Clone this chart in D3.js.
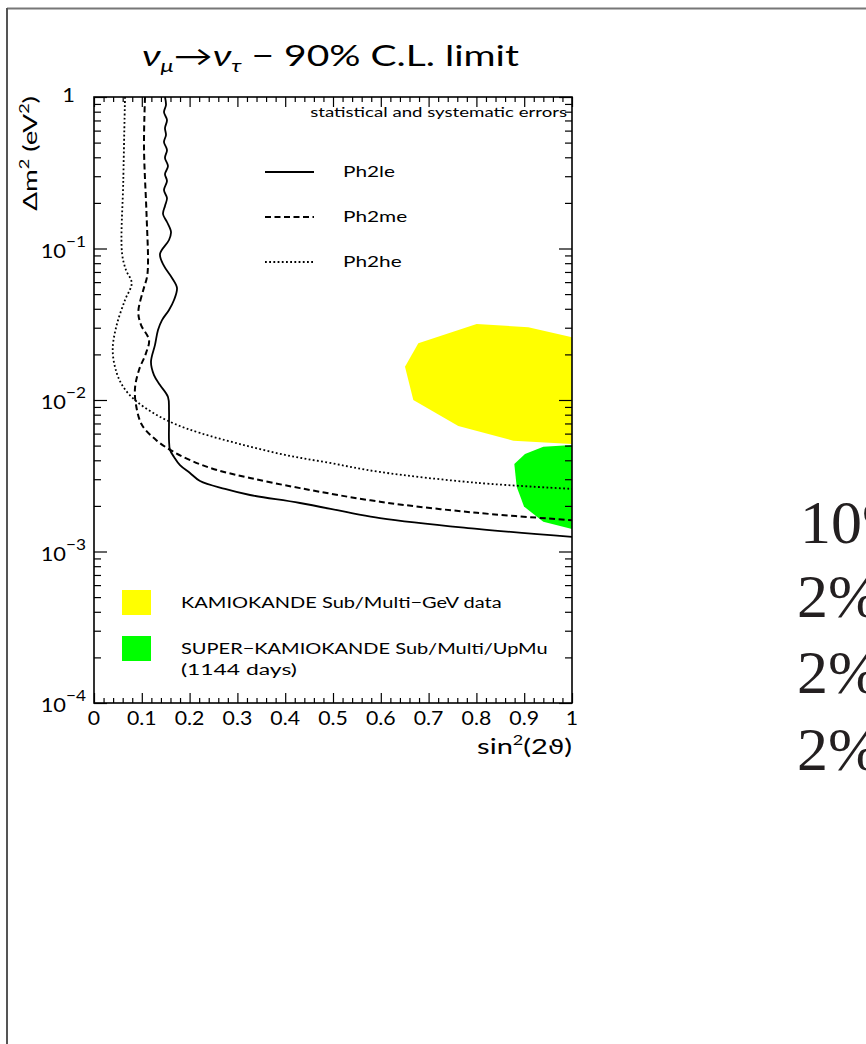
<!DOCTYPE html>
<html>
<head>
<meta charset="utf-8">
<script src="https://cdn.jsdelivr.net/npm/d3@7"></script>
<style>
  body { margin: 0; background: #fff; }
  svg { display: block; }
</style>
</head>
<body>
<svg id="chart" width="866" height="1044"></svg>
<script>
// 90% C.L. exclusion contours: [sin^2(2θ), Δm^2 (eV^2)]
const ph2le = [
  [0.1485, 1.0], [0.1506, 0.885], [0.1464, 0.796], [0.1527, 0.705], [0.1485, 0.624],
  [0.1506, 0.561], [0.1464, 0.505], [0.1527, 0.447], [0.1485, 0.396], [0.1548, 0.350],
  [0.1485, 0.310], [0.1527, 0.279], [0.1464, 0.243], [0.1527, 0.215], [0.1485, 0.191],
  [0.1444, 0.169], [0.1527, 0.1496], [0.1611, 0.1285], [0.1569, 0.1138], [0.1381, 0.0920],
  [0.1464, 0.0767], [0.1632, 0.0639], [0.1736, 0.0549], [0.1674, 0.0457], [0.1569, 0.0393],
  [0.1423, 0.0337], [0.1339, 0.0290], [0.1276, 0.0231], [0.1192, 0.0178], [0.1255, 0.0146],
  [0.1381, 0.01256], [0.1548, 0.01047], [0.1569, 0.00859], [0.1569, 0.00684], [0.1569, 0.00545],
  [0.1590, 0.00468], [0.1674, 0.00421], [0.1799, 0.00372], [0.2008, 0.00330], [0.2218, 0.00292],
  [0.2741, 0.00259], [0.3264, 0.00236], [0.4310, 0.00209], [0.5983, 0.00166], [0.8013, 0.00141],
  [1.0, 0.00125]
];
const ph2me = [
  [0.1067, 1.0], [0.1046, 0.4677], [0.1098, 0.1715], [0.1130, 0.0802], [0.1109, 0.0648],
  [0.1031, 0.0532], [0.0927, 0.0381], [0.0983, 0.0313], [0.1151, 0.0249], [0.1088, 0.0204],
  [0.0941, 0.01578], [0.0858, 0.01200], [0.0879, 0.00927], [0.1004, 0.00684], [0.1297, 0.00545],
  [0.1632, 0.00461], [0.2050, 0.00396], [0.2573, 0.00345], [0.3264, 0.00306], [0.4310, 0.00262],
  [0.5983, 0.00213], [0.8013, 0.00180], [1.0, 0.00161]
];
const ph2he = [
  [0.0649, 1.0], [0.0613, 0.2832], [0.0586, 0.0934], [0.0669, 0.0721], [0.0789, 0.0592],
  [0.0649, 0.0457], [0.0475, 0.0313], [0.0391, 0.0214], [0.0475, 0.01507], [0.0628, 0.01200],
  [0.0879, 0.00985], [0.1276, 0.00808], [0.1695, 0.00694], [0.2218, 0.00606], [0.3054, 0.00512],
  [0.3996, 0.00434], [0.4937, 0.00384], [0.5983, 0.00335], [0.8013, 0.00284], [1.0, 0.00259]
];

// Allowed regions
const kamiokande = [
  [0.8006, 0.03176], [0.9086, 0.03020], [1.0, 0.02594], [1.0, 0.00512], [0.8772, 0.00539],
  [0.7621, 0.00674], [0.6680, 0.0100], [0.6506, 0.01659], [0.6785, 0.02367]
];
const superK = [
  [1.0, 0.00505], [0.940, 0.00492], [0.9017, 0.00440], [0.8793, 0.00378], [0.8843, 0.00268],
  [0.8996, 0.00198], [0.940, 0.00157], [1.0, 0.00141]
];

const xTickValues = [0, 0.1, 0.2, 0.3, 0.4, 0.5, 0.6, 0.7, 0.8, 0.9, 1];
const xTickLabels = ["0", "0.1", "0.2", "0.3", "0.4", "0.5", "0.6", "0.7", "0.8", "0.9", "1"];
const yDecades = [1, 1e-1, 1e-2, 1e-3, 1e-4];
const yDecadeExponents = ["", "−1", "−2", "−3", "−4"];

const curveNames = ["Ph2le", "Ph2me", "Ph2he"];
const regionNames = ["KAMIOKANDE Sub/Multi\u2212GeV data", "SUPER\u2212KAMIOKANDE Sub/Multi/UpMu"];
const regionNote = "(1144 days)";
const sideNotes = ["10%", "2%", "2%", "2%"];

const FONT = "Lato, 'DejaVu Sans', sans-serif";
const svg = d3.select("#chart");

// sans text anchored at (px,py); stretched horizontally to span `width` px
// (or by a fixed factor when `width` is given as {sx})
function wideText(parent, px, py, size, width, anchor, rot) {
  const t = parent.append("text")
    .attr("font-family", FONT).attr("font-size", size).attr("fill", "#000")
    .attr("text-anchor", anchor || "start");
  t.fit = () => {
    const sx = typeof width === "number" ? width / t.node().getComputedTextLength() : width.sx;
    const r = rot ? ` rotate(${rot})` : "";
    t.attr("transform", `translate(${px},${py})${r} scale(${sx},1)`);
    return t;
  };
  return t;
}

// page frame lines
svg.append("line").attr("x1", 7).attr("y1", 8.5).attr("x2", 866).attr("y2", 8.5)
  .attr("stroke", "#777").attr("stroke-width", 2);
svg.append("line").attr("x1", 7).attr("y1", 8).attr("x2", 7).attr("y2", 1044)
  .attr("stroke", "#555").attr("stroke-width", 2);

const L = 94, R = 572, T = 97, B = 703;
const x = d3.scaleLinear().domain([0, 1]).range([L, R]);
const y = d3.scaleLog().domain([1e-4, 1]).range([B, T]);

svg.append("clipPath").attr("id", "plotClip")
  .append("rect").attr("x", L).attr("y", T).attr("width", R - L).attr("height", B - T);

const plot = svg.append("g").attr("clip-path", "url(#plotClip)");

// filled regions
const poly = d3.line().x(d => x(d[0])).y(d => y(d[1])).curve(d3.curveLinearClosed);
plot.append("path").attr("d", poly(kamiokande)).attr("fill", "#ffff00");
plot.append("path").attr("d", poly(superK)).attr("fill", "#00ff00");

// contours
const line = d3.line().x(d => x(d[0])).y(d => y(d[1])).curve(d3.curveCatmullRom.alpha(0.5));
const styles = [
  { dash: null, width: 1.8 },
  { dash: "6,3.5", width: 2 },
  { dash: "1.8,2.4", width: 1.8 }
];
[ph2le, ph2me, ph2he].forEach((data, i) => {
  plot.append("path").attr("d", line(data))
    .attr("fill", "none").attr("stroke", "#000")
    .attr("stroke-width", styles[i].width)
    .attr("stroke-dasharray", styles[i].dash);
});

// axes (ticks pointing inward on all four sides)
const xMinor = d3.range(0, 1.0001, 0.02).filter(v => Math.abs(v * 10 - Math.round(v * 10)) > 1e-6);
const yMinor = [];
for (let e = -4; e < 0; e++) for (let k = 2; k <= 9; k++) yMinor.push(k * Math.pow(10, e));

function styleAxis(g) {
  g.select(".domain").remove();
  g.selectAll(".tick line").attr("stroke", "#000").attr("stroke-width", 1.2);
  g.selectAll(".tick text").remove();
}

svg.append("g").attr("transform", `translate(0,${B})`)
  .call(d3.axisBottom(x).tickValues(xTickValues).tickSize(-10).tickFormat(""))
  .call(styleAxis);
svg.append("g").attr("transform", `translate(0,${B})`)
  .call(d3.axisBottom(x).tickValues(xMinor).tickSize(-5).tickFormat(""))
  .call(styleAxis);
svg.append("g").attr("transform", `translate(0,${T})`)
  .call(d3.axisTop(x).tickValues(xTickValues).tickSize(-10).tickFormat(""))
  .call(styleAxis);
svg.append("g").attr("transform", `translate(0,${T})`)
  .call(d3.axisTop(x).tickValues(xMinor).tickSize(-5).tickFormat(""))
  .call(styleAxis);
svg.append("g").attr("transform", `translate(${L},0)`)
  .call(d3.axisLeft(y).tickValues(yDecades).tickSize(-13).tickFormat(""))
  .call(styleAxis);
svg.append("g").attr("transform", `translate(${L},0)`)
  .call(d3.axisLeft(y).tickValues(yMinor).tickSize(-7).tickFormat(""))
  .call(styleAxis);
svg.append("g").attr("transform", `translate(${R},0)`)
  .call(d3.axisRight(y).tickValues(yDecades).tickSize(-13).tickFormat(""))
  .call(styleAxis);
svg.append("g").attr("transform", `translate(${R},0)`)
  .call(d3.axisRight(y).tickValues(yMinor).tickSize(-7).tickFormat(""))
  .call(styleAxis);

// frame
svg.append("rect").attr("x", L).attr("y", T).attr("width", R - L).attr("height", B - T)
  .attr("fill", "none").attr("stroke", "#000").attr("stroke-width", 1.6);

// x tick labels
xTickValues.forEach((v, i) => {
  wideText(svg, x(v), 725, 19, { sx: 1.12 }, "middle").text(xTickLabels[i]).fit();
});

// y tick labels: 10^n
yDecades.forEach((v, i) => {
  if (i === 0) {
    wideText(svg, 75, y(v) + 5, 19, { sx: 1.15 }, "end").text("1").fit();
  } else {
    const t = wideText(svg, 86, y(v) + 9, 19, { sx: 1.15 }, "end");
    t.append("tspan").text("10");
    t.append("tspan").attr("font-size", 15).attr("dy", -11).text(yDecadeExponents[i]);
    t.fit();
  }
});

// axis titles
const xt = wideText(svg, R, 754, 21, 95, "end");
xt.append("tspan").text("sin");
xt.append("tspan").attr("font-size", 13).attr("dy", -9).text("2");
xt.append("tspan").attr("dy", 9).text("(2");
xt.append("tspan").attr("font-family", "'DejaVu Sans', sans-serif").attr("font-size", 19).text("ϑ");
xt.append("tspan").text(")");
xt.fit();

const yt = wideText(svg, 37, 96, 20, 115, "end", -90);
yt.append("tspan").text("Δm");
yt.append("tspan").attr("font-size", 13).attr("dy", -8).text("2");
yt.append("tspan").attr("dy", 8).text(" (eV");
yt.append("tspan").attr("font-size", 13).attr("dy", -8).text("2");
yt.append("tspan").attr("dy", 8).text(")");
yt.fit();

// title
const title = wideText(svg, 142, 66, 28, 377, "start");
title.append("tspan").attr("font-style", "italic").text("ν");
title.append("tspan").attr("font-style", "italic").attr("font-size", 17).attr("dy", 6).text("μ");
title.append("tspan").attr("dy", -6).text("→");
title.append("tspan").attr("font-style", "italic").text("ν");
title.append("tspan").attr("font-style", "italic").attr("font-size", 17).attr("dy", 6).text("τ");
title.append("tspan").attr("dy", -6).text(" − 90% C.L. limit");
title.fit();

// note in the upper right corner
wideText(svg, 567, 117, 14, 257, "end").text("statistical and systematic errors").fit();

// line legend
const lg = svg.append("g");
curveNames.forEach((name, i) => {
  const yy = 172 + i * 45;
  lg.append("line").attr("x1", 265).attr("x2", 314).attr("y1", yy).attr("y2", yy)
    .attr("stroke", "#000").attr("stroke-width", styles[i].width)
    .attr("stroke-dasharray", styles[i].dash);
  wideText(lg, 343, yy + 5, 16, { sx: 1.3 }, "start").text(name).fit();
});

// region legend
const regionColors = ["#ffff00", "#00ff00"];
const regionWidths = [321, 367];
regionNames.forEach((name, i) => {
  const yy = 590 + i * 46;
  lg.append("rect").attr("x", 122).attr("y", yy).attr("width", 29).attr("height", 25)
    .attr("fill", regionColors[i]);
  wideText(lg, 181, yy + 18, 16, regionWidths[i], "start").text(name).fit();
});
wideText(lg, 181, 675, 16, 116, "start").text(regionNote).fit();

// side notes (serif, running off the right edge)
const sideX = [800, 797, 797, 797];
const sideY = [543, 617, 693, 770];
sideNotes.forEach((s, i) => {
  svg.append("text").attr("x", sideX[i]).attr("y", sideY[i])
    .attr("font-family", "'Liberation Serif', serif").attr("font-size", 62)
    .attr("fill", "#231f20").text(s);
});
</script>
</body>
</html>
